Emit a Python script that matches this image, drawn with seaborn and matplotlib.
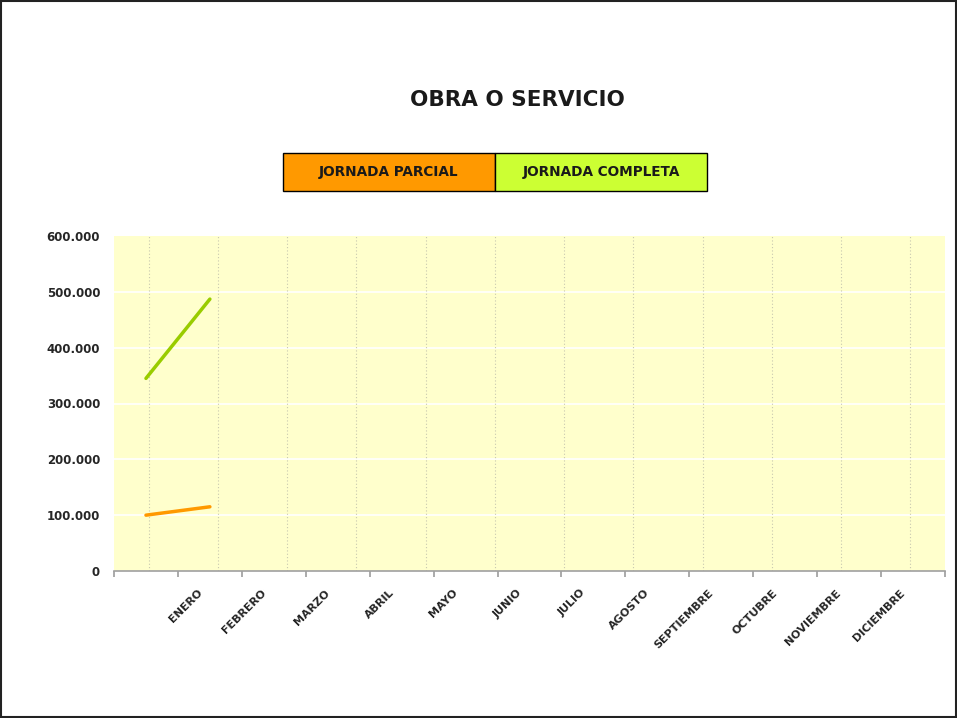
import numpy as np
import pandas as pd
import matplotlib
matplotlib.use("Agg")
import matplotlib.pyplot as plt
import matplotlib.transforms as mtransforms
from matplotlib.patches import Rectangle
from matplotlib.ticker import FuncFormatter
import seaborn as sns

# categorias del eje (la primera sin nombre)
meses = ["", "ENERO", "FEBRERO", "MARZO", "ABRIL", "MAYO", "JUNIO", "JULIO",
         "AGOSTO", "SEPTIEMBRE", "OCTUBRE", "NOVIEMBRE", "DICIEMBRE"]
series = ["JORNADA PARCIAL", "JORNADA COMPLETA"]
parcial = [100000, 115000]
completa = [345000, 487000]
colores = ["#FF9900", "#99CC00"]
colores_leyenda = ["#FF9900", "#CCFF33"]
y_ticks = [0, 100000, 200000, 300000, 400000, 500000, 600000]

sns.set_theme(style="white")
plt.rcParams['font.family'] = ['DejaVu Sans']

df = pd.DataFrame({
    "mes": meses[:len(parcial)] * 2,
    "pos": list(np.arange(len(parcial)) + 0.5) * 2,
    "valor": parcial + completa,
    "serie": [series[0]] * len(parcial) + [series[1]] * len(completa),
})

fig = plt.figure(figsize=(9.57, 7.18), dpi=100)
ax = fig.add_axes([114/957, 1 - 571/718, (945-114)/957, (571-236)/718])
ax.set_facecolor("#FFFFCC")

n = len(meses)
ax.set_xlim(0, n)
ax.set_ylim(y_ticks[0], y_ticks[-1])

# rejilla
for yv in y_ticks[1:-1]:
    ax.axhline(yv, color="white", lw=1.2, zorder=1)
for k in range(n - 1):
    ax.axvline((k + 0.5) * n / (n - 1), color="#C8C8B0", lw=0.8,
               ls=(0, (1, 2)), zorder=1)

sns.lineplot(data=df, x="pos", y="valor", hue="serie", palette=colores,
             hue_order=series, lw=2.5, legend=False, ax=ax, zorder=3)

ax.set_xlabel("")
ax.set_ylabel("")
ax.set_yticks(y_ticks)
ax.yaxis.set_major_formatter(FuncFormatter(lambda v, p: f"{int(v):,}".replace(",", ".")))
ax.tick_params(axis="y", length=0, pad=10, labelsize=8.5)
for t in ax.get_yticklabels():
    t.set_fontweight("bold")

ax.set_xticks(np.arange(n + 1))
ax.set_xticklabels([])
ax.tick_params(axis="x", which="major", length=4, color="#A0A0A0", direction="out",
               bottom=True)
ax.set_xticks(np.arange(1, n) + 0.5, minor=True)
ax.set_xticklabels(meses[1:], minor=True, rotation=45, ha="right",
                   rotation_mode="anchor", fontsize=8, fontweight="bold")
ax.tick_params(axis="x", which="minor", length=0, pad=12)
desplaza = mtransforms.ScaledTranslation(-13/100, 0, fig.dpi_scale_trans)
for t in ax.xaxis.get_minorticklabels():
    t.set_transform(t.get_transform() + desplaza)

for s in ["top", "left", "right"]:
    ax.spines[s].set_visible(False)
ax.spines["bottom"].set_color("#A0A0A0")
ax.spines["bottom"].set_linewidth(1.2)

# titulo
fig.text(517/957, 1 - 100/718, "OBRA O SERVICIO", ha="center", va="center",
         fontsize=15.5, fontweight="bold", color="#1A1A1A")

# leyenda en cajas
x0, ancho, y0, alto = 283/957, 212/957, 1 - 191/718, 38/718
for i, (nom, c) in enumerate(zip(series, colores_leyenda)):
    fig.patches.append(Rectangle((x0 + i*ancho, y0), ancho, alto, transform=fig.transFigure,
                                 facecolor=c, edgecolor="black", lw=1))
    fig.text(x0 + (i + 0.5)*ancho, y0 + alto/2, nom, ha="center", va="center",
             fontsize=9.8, fontweight="bold", color="#1A1A1A")

# marco
fig.patches.append(Rectangle((0.001, 0.002), 0.998, 0.997, transform=fig.transFigure,
                             facecolor="none", edgecolor="#222222", lw=1.5))

fig.savefig("out.png", dpi=100)
